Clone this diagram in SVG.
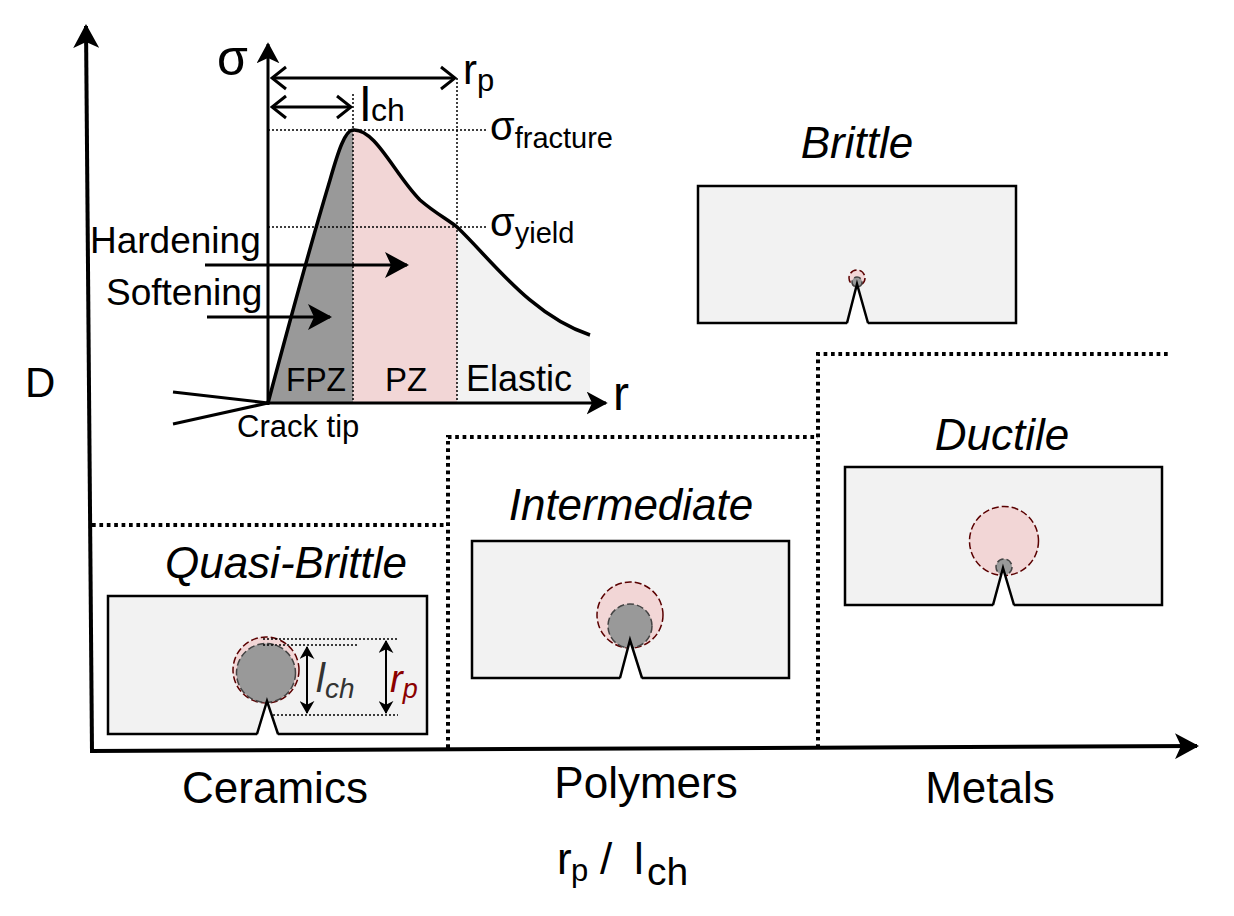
<svg xmlns="http://www.w3.org/2000/svg" width="1234" height="916" viewBox="0 0 1234 916">
<style>
text{font-family:"Liberation Sans",Arial,sans-serif;fill:#000}
.it{font-style:italic}
.box{fill:#f2f2f2;stroke:#000;stroke-width:2.5}
.notch{fill:none;stroke:#000;stroke-width:2.5;stroke-linejoin:miter}
.notchfill{fill:#fff;stroke:none}
.pz{fill:#f2d6d6;stroke:#5a0000;stroke-width:1.5;stroke-dasharray:7 3}
.fpz{fill:#999;stroke:#444;stroke-width:1.5;stroke-dasharray:7 3}
.bound{fill:none;stroke:#000;stroke-width:4;stroke-dasharray:3.7 3.7}
.dot{fill:none;stroke:#000;stroke-width:1.5;stroke-dasharray:2 2}
.ax{fill:none;stroke:#000;stroke-width:4}
.ax3{fill:none;stroke:#000;stroke-width:3}
</style>
<defs>
<marker id="big" markerUnits="userSpaceOnUse" viewBox="0 0 24 26" markerWidth="24" markerHeight="26" refX="22" refY="13" orient="auto">
<path d="M0,0 L24,13 L0,26 L6,13 Z" fill="#000"/>
</marker>
<marker id="mid" markerUnits="userSpaceOnUse" viewBox="0 0 24 26" markerWidth="21" markerHeight="23" refX="22" refY="13" orient="auto">
<path d="M0,0 L24,13 L0,26 L6,13 Z" fill="#000"/>
</marker>
<marker id="small" markerUnits="userSpaceOnUse" viewBox="0 0 14 16" markerWidth="13" markerHeight="15" refX="13" refY="8" orient="auto-start-reverse">
<path d="M0,0 L14,8 L0,16 L4,8 Z" fill="#000"/>
</marker>
<marker id="chev" markerUnits="userSpaceOnUse" viewBox="0 0 18 26" markerWidth="18" markerHeight="26" refX="16" refY="13" orient="auto-start-reverse">
<path d="M2,2 L16,13 L2,24" fill="none" stroke="#000" stroke-width="3"/>
</marker>
</defs>
<rect width="1234" height="916" fill="#fff"/>

<!-- inset stress plot -->
<g id="inset">
<path d="M268,403 C290,320 315,230 330,180 C338,152 345,130 353,130 L353,403 Z" fill="#999"/>
<path d="M353,130 C375,128 395,175 420,200 C435,213 447,219 457,227 L457,403 L353,403 Z" fill="#f2d6d6"/>
<path d="M457,227 C490,258 530,315 590,335 L590,403 L457,403 Z" fill="#f2f2f2"/>
<line class="dot" x1="353" y1="94" x2="353" y2="403"/>
<line class="dot" x1="457" y1="78" x2="457" y2="403"/>
<line class="dot" x1="268" y1="130" x2="488" y2="130"/>
<line class="dot" x1="268" y1="227" x2="488" y2="227"/>
<path d="M268,403 C290,320 315,230 330,180 C338,152 345,130 353,130 C375,128 395,175 420,200 C435,213 447,219 457,227 C490,258 530,315 590,335" fill="none" stroke="#000" stroke-width="3.5"/>
<line class="ax3" x1="268" y1="405" x2="268" y2="44" marker-end="url(#mid)"/>
<line class="ax3" x1="266" y1="403" x2="606" y2="403" marker-end="url(#mid)"/>
<line class="ax3" x1="173" y1="392" x2="268" y2="403"/>
<line class="ax3" x1="173" y1="424" x2="268" y2="403"/>
<line class="ax3" x1="272" y1="78" x2="455" y2="78" marker-start="url(#chev)" marker-end="url(#chev)"/>
<line class="ax3" x1="272" y1="107" x2="351" y2="107" marker-start="url(#chev)" marker-end="url(#chev)"/>
<line class="ax3" x1="205" y1="265" x2="407" y2="265" marker-end="url(#big)"/>
<line class="ax3" x1="207" y1="317" x2="330" y2="317" marker-end="url(#big)"/>
<text x="217" y="75" font-size="50">σ</text>
<text x="613" y="410" font-size="48">r</text>
<text x="463" y="84" font-size="42">r<tspan font-size="31" dy="7">p</tspan></text>
<text x="360" y="121" font-size="48">l<tspan font-size="32" x="371">ch</tspan></text>
<text x="490" y="140" font-size="40">σ<tspan font-size="29" dy="8">fracture</tspan></text>
<text x="490" y="236" font-size="40">σ<tspan font-size="29" dy="7">yield</tspan></text>
<text x="90" y="253" font-size="37">Hardening</text>
<text x="106" y="305" font-size="37">Softening</text>
<text x="286" y="391" font-size="33" textLength="60" lengthAdjust="spacingAndGlyphs">FPZ</text>
<text x="385" y="391" font-size="33">PZ</text>
<text x="466" y="391" font-size="36">Elastic</text>
<text x="237" y="437" font-size="31">Crack tip</text>
</g>

<!-- main axes -->
<g id="axes">
<line class="ax" x1="92" y1="751" x2="86" y2="26" marker-end="url(#big)"/>
<line class="ax" x1="90" y1="751" x2="1197" y2="746" marker-end="url(#big)"/>
<text x="25" y="397" font-size="42">D</text>
<text x="557" y="874" font-size="44">r</text>
<text x="571" y="881" font-size="31">p</text>
<text x="600" y="874" font-size="44">/</text>
<text x="634" y="874" font-size="44">l</text>
<text x="647" y="885" font-size="39">ch</text>
<text x="275" y="803" font-size="44" text-anchor="middle">Ceramics</text>
<text x="646" y="798" font-size="44" text-anchor="middle">Polymers</text>
<text x="990" y="803" font-size="44" text-anchor="middle">Metals</text>
</g>

<!-- regime boundaries -->
<g id="connectors">
<path class="bound" d="M92,525 L445,525"/>
<path class="bound" d="M448,748 L448,437 L818,437"/>
<path class="bound" d="M818,748 L818,354 L1170,354"/>
</g>

<!-- Brittle -->
<g id="brittle">
<text class="it" x="857" y="158" font-size="44" text-anchor="middle">Brittle</text>
<rect class="box" x="698" y="186" width="318" height="137"/>
<circle class="pz" cx="857" cy="278" r="8"/>
<circle class="fpz" cx="857" cy="282" r="5"/>
<path class="notchfill" d="M847,325 L857,284 L868,325 Z"/>
<path class="notch" d="M847,323 L857,284 L868,323"/>
</g>

<!-- Ductile -->
<g id="ductile">
<text class="it" x="1002" y="450" font-size="44" text-anchor="middle">Ductile</text>
<rect class="box" x="845" y="467" width="317" height="138"/>
<circle class="pz" cx="1004" cy="541" r="34.5"/>
<circle class="fpz" cx="1004" cy="567" r="8"/>
<path class="notchfill" d="M993,607 L1003,568 L1014,607 Z"/>
<path class="notch" d="M993,605 L1003,568 L1014,605"/>
</g>

<!-- Intermediate -->
<g id="intermediate">
<text class="it" x="631" y="520" font-size="44" text-anchor="middle">Intermediate</text>
<rect class="box" x="472" y="541" width="317" height="137"/>
<circle class="pz" cx="630" cy="615" r="33"/>
<circle class="fpz" cx="630" cy="626" r="22"/>
<path class="notchfill" d="M620,680 L630,640 L642,680 Z"/>
<path class="notch" d="M620,678 L630,640 L642,678"/>
</g>

<!-- Quasi-Brittle -->
<g id="quasi-brittle">
<text class="it" x="286" y="578" font-size="44" text-anchor="middle">Quasi-Brittle</text>
<rect class="box" x="108" y="596" width="319" height="138"/>
<circle class="pz" cx="266" cy="670" r="33"/>
<circle class="fpz" cx="266" cy="673" r="29.5"/>
<path class="notchfill" d="M257,736 L267,701 L278,736 Z"/>
<path class="notch" d="M257,734 L267,701 L278,734"/>
<line class="dot" x1="263" y1="639" x2="398" y2="639"/>
<line class="dot" x1="263" y1="645" x2="357" y2="645"/>
<line class="dot" x1="273" y1="715" x2="398" y2="715"/>
<line x1="307" y1="647" x2="307" y2="713" stroke="#000" stroke-width="2" marker-start="url(#small)" marker-end="url(#small)"/>
<line x1="386" y1="641" x2="386" y2="713" stroke="#000" stroke-width="2" marker-start="url(#small)" marker-end="url(#small)"/>
<text class="it" x="316" y="692" font-size="40" style="fill:#333">l<tspan font-size="28" dy="6">ch</tspan></text>
<text class="it" x="390" y="692" font-size="38" style="fill:#8b0000">r<tspan font-size="27" dy="6">p</tspan></text>
</g>
</svg>
